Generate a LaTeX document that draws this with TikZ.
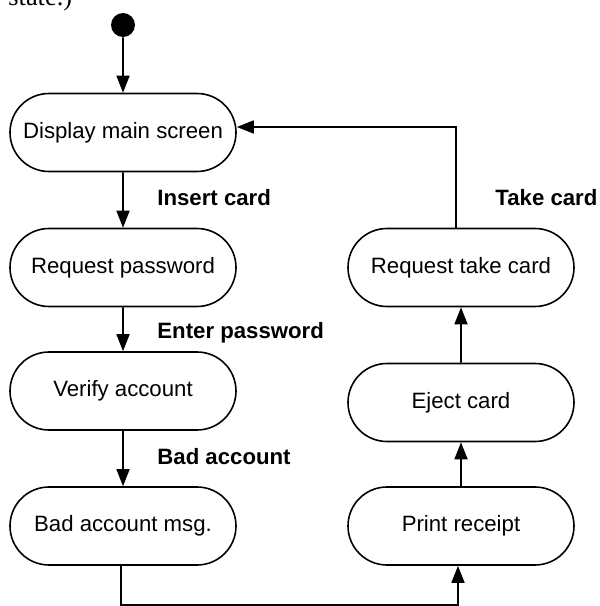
\documentclass[tikz,border=0pt]{standalone}
\usepackage{fontspec}
\setmainfont{Liberation Sans}
\newfontfamily\bodyserif{Liberation Serif}
\usepackage{tikz}
\usetikzlibrary{shapes.misc,positioning,arrows.meta,calc}

\begin{document}
\begin{tikzpicture}[
    node distance=67.5pt,
    font=\fontsize{11.1}{13}\selectfont,
    >={Triangle[length=8.5pt,width=6.5pt]},
    activity/.style={rounded rectangle, draw, line width=0.8pt, minimum width=113pt, minimum height=39pt, inner sep=0pt},
    initial/.style={circle, fill=black, minimum size=12pt, inner sep=0pt},
    event/.style={anchor=west, inner sep=0pt, font=\fontsize{11.1}{13}\selectfont\bfseries},
    arrow/.style={->, line width=0.8pt}
]
    \useasboundingbox (0pt,0pt) rectangle (300pt,-303pt);

    % Cut-off text above
    \node (cuttext) [anchor=base west, inner sep=0pt, font=\fontsize{13.2}{15}\selectfont\bodyserif] at (4pt,-2.5pt) {state.)};

    % Start
    \node (init) [initial] at (61.5pt,-12.5pt) {};

    % Left column
    \node (display) [activity] at (61.5pt,-66.25pt) {Display main screen};
    \node (reqpw) [activity, below of=display] {Request password};
    \node (verify) [activity, below of=reqpw, yshift=5.75pt] {Verify account};
    \node (badmsg) [activity, below of=verify] {Bad account msg.};

    % Right column
    \node (rtake) [activity, right of=reqpw, xshift=101.5pt] {Request take card};
    \node (eject) [activity, below of=rtake] {Eject card};
    \node (print) [activity, below of=eject, yshift=5.75pt] {Print receipt};

    % Events
    \node (lblinsert) [event] at (78.5pt,-99pt) {Insert card};
    \node (lblenter) [event] at (78.5pt,-166.5pt) {Enter password};
    \node (lblbad) [event] at (78.5pt,-228.5pt) {Bad account};
    \node (lbltake) [event] at (247.5pt,-99pt) {Take card};

    \coordinate (loopbottom) at (0pt,-302.5pt);

    % Transitions
    \draw [arrow] (init) -- (display);
    \draw [arrow] (display) -- (reqpw);
    \draw [arrow] (reqpw) -- (verify);
    \draw [arrow] (verify) -- (badmsg);
    \draw [arrow] ([xshift=-1pt]badmsg.south) -- ([xshift=-1pt]badmsg.south |- loopbottom) -| ([xshift=-1.5pt]print.south);
    \draw [arrow] (print) -- (eject);
    \draw [arrow] (eject) -- (rtake);
    \draw [arrow] ([xshift=-2.5pt]rtake.north) |- ([yshift=2.75pt]display.east);

\end{tikzpicture}
\end{document}
